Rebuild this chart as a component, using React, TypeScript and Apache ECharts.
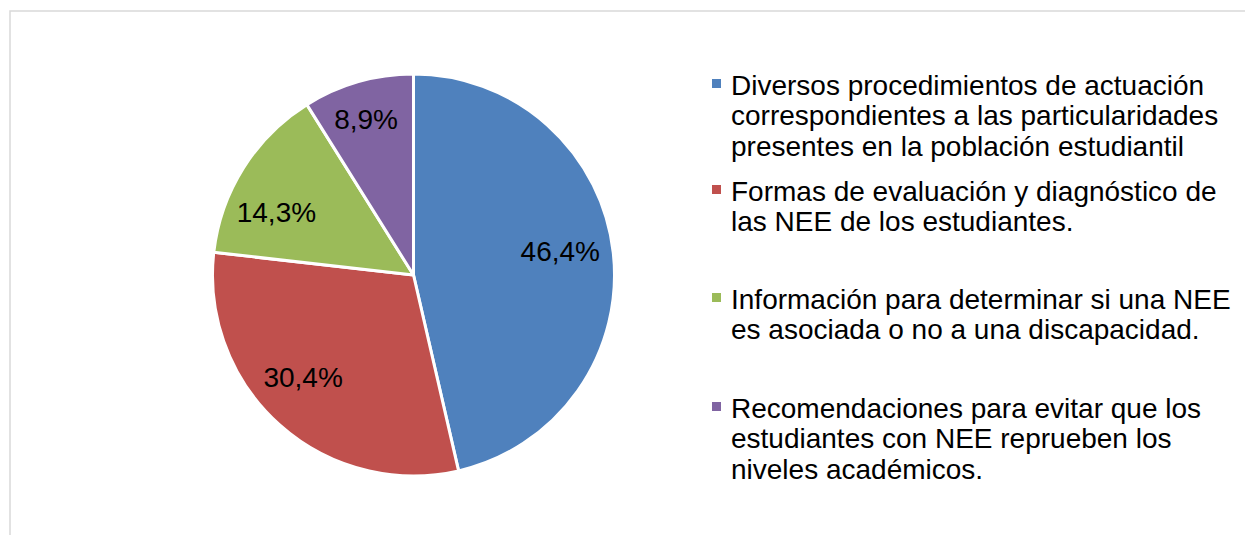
import React, { useEffect, useRef } from "react";
import * as echarts from "echarts";

const categories = [
  "Diversos procedimientos de actuación correspondientes a las particularidades presentes en la población estudiantil",
  "Formas de evaluación y diagnóstico de las NEE de los estudiantes.",
  "Información para determinar si una NEE es asociada o no a una discapacidad.",
  "Recomendaciones para evitar que los estudiantes con NEE reprueben los niveles académicos.",
];
const legendLines = [
  ["Diversos procedimientos de actuación", "correspondientes a las particularidades", "presentes en la población estudiantil"],
  ["Formas de evaluación y diagnóstico de", "las NEE de los estudiantes."],
  ["Información para determinar si una NEE", "es asociada o no a una discapacidad."],
  ["Recomendaciones para evitar que los", "estudiantes con NEE reprueben los", "niveles académicos."],
];
const percentages = [46.4, 30.4, 14.3, 8.9];
const colors = ["#4F81BD", "#C0504D", "#9BBB59", "#8064A2"];

// layout constants
const CX = 413.5;
const CY = 275;
const R = 201;
const legendTops = [85, 191, 299, 408]; // center of first line
const labelNudge = [
  [-6, -6],
  [-8, -12],
  [-7, 19],
  [-5, -8],
];
const FONT = "'Liberation Sans', Arial, sans-serif";

export default function App() {
  const ref = useRef<HTMLDivElement>(null);
  useEffect(() => {
    if (!ref.current) return;
    const chart = echarts.init(ref.current, undefined, { renderer: "svg" });
    const data = categories.map((name, i) => ({
      name,
      value: percentages[i],
      itemStyle: { color: colors[i] },
    }));
    const LH = 30.5;
    const legendGraphics: any[] = [];
    legendLines.forEach((lines, i) => {
      legendGraphics.push({
        type: "rect",
        shape: { x: 712, y: legendTops[i] - 5 - 1, width: 9, height: 9 },
        style: { fill: colors[i] },
      });
      legendGraphics.push({
        type: "text",
        x: 731,
        y: legendTops[i] - LH / 2,
        style: {
          text: lines.join("\n"),
          font: `28px ${FONT}`,
          fill: "#000",
          lineHeight: LH,
          verticalAlign: "top",
          align: "left",
        },
      });
    });
    chart.setOption({
      animation: false,
      backgroundColor: "#fff",
      legend: { show: false },
      graphic: [
        {
          type: "rect",
          shape: { x: 10, y: 11, width: 1400, height: 700 },
          style: { fill: "none", stroke: "#d9d9d9", lineWidth: 1.5 },
          z: 0,
        },
        ...legendGraphics,
      ],
      series: [
        {
          type: "pie",
          center: [CX, CY],
          radius: [0, R],
          startAngle: 90,
          clockwise: true,
          data,
          label: { show: false },
          labelLine: { show: false },
          itemStyle: { borderColor: "#fff", borderWidth: 3 },
          silent: true,
        },
        {
          type: "pie",
          center: [CX, CY],
          radius: [0, R * 1.5],
          startAngle: 90,
          clockwise: true,
          data: categories.map((name, i) => ({ name, value: percentages[i] })),
          itemStyle: { color: "rgba(0,0,0,0)" },
          emphasis: { disabled: true },
          silent: true,
          label: {
            show: true,
            position: "inside",
            formatter: (p: any) => `${p.value.toFixed(1).replace(".", ",")}%`,
            fontSize: 28,
            fontFamily: FONT,
            color: "#000",
          },
          labelLine: { show: false },
          labelLayout: (p: any) => ({ dx: labelNudge[p.dataIndex][0], dy: labelNudge[p.dataIndex][1] }),
          z: 5,
        },
      ],
    });
    return () => chart.dispose();
  }, []);
  return (
    <div
      ref={ref}
      style={{ position: "fixed", left: 0, top: 0, width: 1245, height: 535 }}
    />
  );
}
